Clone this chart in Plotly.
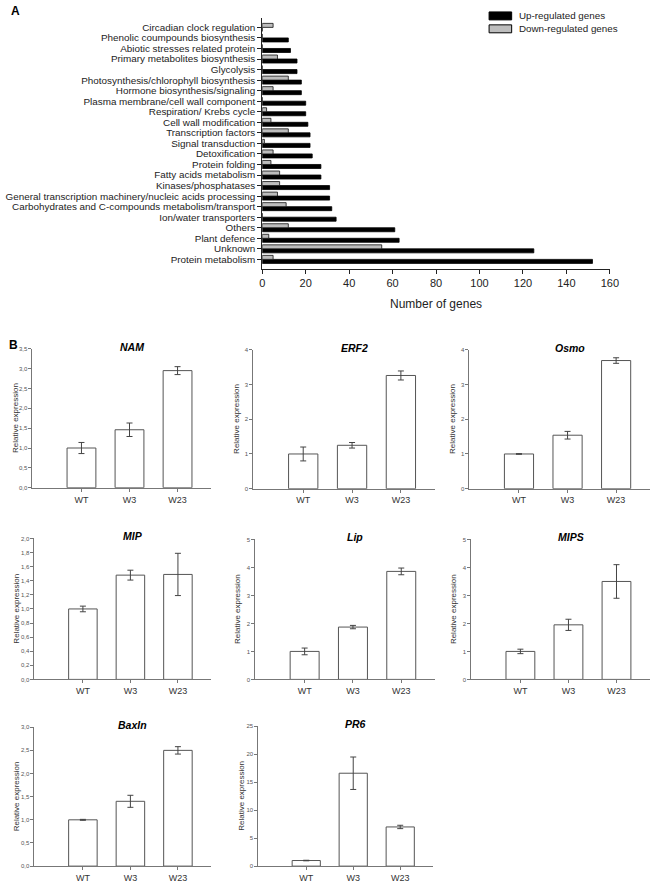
import plotly.graph_objects as go

# ---------------- Panel A data ----------------
categories = [
    "Protein metabolism", "Unknown", "Plant defence", "Others",
    "Ion/water transporters",
    "Carbohydrates and C-compounds metabolism/transport",
    "General transcription machinery/nucleic acids processing",
    "Kinases/phosphatases", "Fatty acids metabolism", "Protein folding",
    "Detoxification", "Signal transduction", "Transcription factors",
    "Cell wall modification", "Respiration/ Krebs cycle",
    "Plasma membrane/cell wall component", "Hormone biosynthesis/signaling",
    "Photosynthesis/chlorophyll biosynthesis", "Glycolysis",
    "Primary metabolites biosynthesis", "Abiotic stresses related protein",
    "Phenolic coumpounds biosynthesis", "Circadian clock regulation",
]
up_counts = [152, 125, 63, 61, 34, 32, 31, 31, 27, 27, 23, 22, 22, 21, 20, 20,
             18, 18, 16, 16, 13, 12, 0]
down_counts = [5, 55, 3, 12, 0, 11, 7, 8, 8, 4, 5, 1, 12, 4, 2, 0, 5, 12, 0, 7,
               0, 0, 5]
count_ticks = [0, 20, 40, 60, 80, 100, 120, 140, 160]
series_names = ["Up-regulated genes", "Down-regulated genes"]

# ---------------- Panel B data ----------------
groups = ["WT", "W3", "W23"]
genes = ["NAM", "ERF2", "Osmo", "MIP", "Lip", "MIPS", "BaxIn", "PR6"]
nam_mean = [1.00, 1.46, 2.95]
nam_err = [0.14, 0.17, 0.10]
erf2_mean = [1.00, 1.25, 3.26]
erf2_err = [0.20, 0.08, 0.13]
osmo_mean = [1.00, 1.54, 3.69]
osmo_err = [0.01, 0.11, 0.08]
mip_mean = [1.00, 1.48, 1.49]
mip_err = [0.04, 0.07, 0.30]
lip_mean = [1.00, 1.87, 3.86]
lip_err = [0.12, 0.06, 0.12]
mips_mean = [1.00, 1.95, 3.50]
mips_err = [0.08, 0.20, 0.60]
baxin_mean = [1.00, 1.40, 2.50]
baxin_err = [0.01, 0.13, 0.08]
pr6_mean = [1.00, 16.6, 7.0]
pr6_err = [0.05, 2.9, 0.3]
y_max = [3.5, 4, 4, 2.0, 5, 5, 3.0, 25]
y_step = [0.5, 1, 1, 0.2, 1, 1, 0.5, 5]
y_fmt = [".1f", "d", "d", ".1f", "d", "d", ".1f", "d"]

means = [nam_mean, erf2_mean, osmo_mean, mip_mean, lip_mean, mips_mean,
         baxin_mean, pr6_mean]
errs = [nam_err, erf2_err, osmo_err, mip_err, lip_err, mips_err, baxin_err,
        pr6_err]

W, H = 666, 888
FONT = "Liberation Sans, Arial, sans-serif"
UP_COLOR = "black"
DOWN_COLOR = "#bdbdbd"


def px_x(v):
    return v / W


def px_y(v):
    return 1 - v / H


fig = go.Figure()

# Panel A bars
fig.add_trace(go.Bar(
    y=categories, x=up_counts, orientation="h", name=series_names[0],
    marker=dict(color=UP_COLOR, line=dict(color="black", width=0.8)),
    xaxis="x", yaxis="y", showlegend=False))
fig.add_trace(go.Bar(
    y=categories, x=down_counts, orientation="h", name=series_names[1],
    marker=dict(color=DOWN_COLOR, line=dict(color="#111111", width=0.8)),
    xaxis="x", yaxis="y", showlegend=False))

layout = dict(
    width=W, height=H,
    margin=dict(l=0, r=0, t=0, b=0),
    paper_bgcolor="white", plot_bgcolor="white",
    barmode="group", bargap=0.24, bargroupgap=0.0,
    separators=",.",
    font=dict(family=FONT, color="#222222"),
    showlegend=False,
    xaxis=dict(domain=[px_x(264), px_x(618)], anchor="y", range=[0, 160],
               tickvals=count_ticks, showline=True, linecolor="#222222",
               linewidth=1, ticks="outside", ticklen=4, tickcolor="#222222",
               showgrid=False, zeroline=False,
               tickfont=dict(size=11, color="#222222"),
               title=dict(text="Number of genes", font=dict(size=12),
                          standoff=11)),
    yaxis=dict(domain=[px_y(268), px_y(15)], anchor="x", type="category",
               range=[-0.93, 22.9], showline=True, linecolor="#222222",
               linewidth=1, ticks="outside", ticklen=4, tickcolor="#222222",
               tickmode="array", tickvals=categories, ticktext=categories,
               showgrid=False, zeroline=False,
               tickfont=dict(size=9.9, color="#222222")),
)

shapes = []
annotations = [
    dict(text="<b>A</b>", x=px_x(6), y=px_y(8), xref="paper", yref="paper",
         showarrow=False, font=dict(size=12, color="black"),
         xanchor="left", yanchor="middle"),
    dict(text="<b>B</b>", x=px_x(4), y=px_y(344), xref="paper", yref="paper",
         showarrow=False, font=dict(size=12, color="black"),
         xanchor="left", yanchor="middle"),
]

# Panel A legend (drawn as key swatches + labels)
legend_rows = [(UP_COLOR, 13), (DOWN_COLOR, 26)]
for (col, yc), name in zip(legend_rows, series_names):
    shapes.append(dict(type="rect", xref="paper", yref="paper",
                       x0=px_x(495), x1=px_x(518), y0=px_y(yc + 4),
                       y1=px_y(yc - 4), fillcolor=col,
                       line=dict(color="black", width=1)))
    annotations.append(dict(text=name, x=px_x(523), y=px_y(yc), xref="paper",
                            yref="paper", showarrow=False, xanchor="left",
                            yanchor="middle",
                            font=dict(size=9.8, color="#222222")))

# Panel B geometry (pixels): left x, right x, top y, bottom y
boxes = [
    (30, 212, 348, 488), (255, 440, 349, 489), (475, 659, 349, 489),
    (32, 212, 539, 681), (257, 440, 540, 681), (477, 659, 540, 681),
    (32, 212, 729, 869), (260, 438, 728, 869),
]

for i, gene in enumerate(genes):
    k = i + 2
    xa, ya = f"x{k}", f"y{k}"
    l, r, t, b = boxes[i]
    fig.add_trace(go.Bar(
        x=groups, y=means[i], width=0.6, showlegend=False,
        marker=dict(color="white", line=dict(color="#555555", width=1)),
        error_y=dict(type="data", array=errs[i], color="#444444",
                     thickness=1, width=3),
        xaxis=xa, yaxis=ya))
    nt = int(round(y_max[i] / y_step[i]))
    tv = [round(j * y_step[i], 4) for j in range(nt + 1)]
    layout[f"xaxis{k}"] = dict(
        domain=[px_x(l), px_x(r)], anchor=ya, type="category",
        range=[-1.02, 2.7], showline=True, linecolor="#777777", linewidth=1,
        ticks="outside", ticklen=3, tickcolor="#777777", showgrid=False,
        zeroline=False, tickfont=dict(size=9, color="#333333"))
    layout[f"yaxis{k}"] = dict(
        domain=[px_y(b), px_y(t)], anchor=xa, range=[0, y_max[i] * 1.001],
        tickvals=tv, tickformat=y_fmt[i], showline=True,
        linecolor="#777777", linewidth=1, ticks="outside", ticklen=3,
        tickcolor="#777777", showgrid=False, zeroline=False,
        tickfont=dict(size=6, color="#555555"))
    annotations.append(dict(
        text=f"<b><i>{gene}</i></b>", x=px_x((l + r) / 2 + 10),
        y=px_y(t - 2), xref="paper", yref="paper", showarrow=False,
        font=dict(size=10.5, color="black"), xanchor="center",
        yanchor="middle"))
    annotations.append(dict(
        text="Relative expression", x=px_x(l - 18), y=px_y((t + b) / 2),
        xref="paper", yref="paper", showarrow=False, textangle=-90,
        font=dict(size=8, color="#333333"), xanchor="center",
        yanchor="middle"))

layout["annotations"] = annotations
layout["shapes"] = shapes
fig.update_layout(**layout)
# remove the browser's default page margin so the figure fills the window
fig.write_html("out.html",
               config={"displayModeBar": False},
               post_script="document.body.style.margin='0';"
                           "document.body.style.overflow='hidden';")
